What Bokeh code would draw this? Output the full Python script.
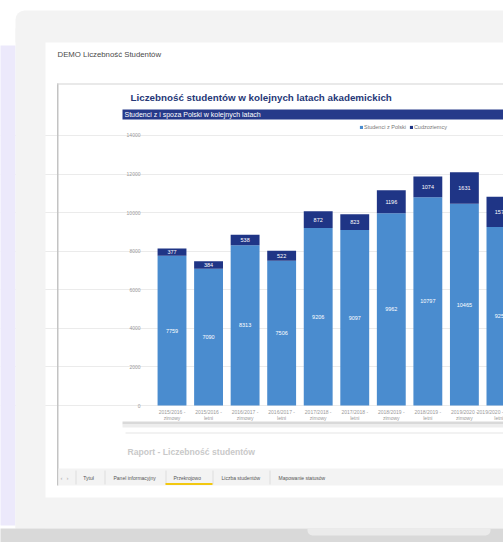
from bokeh.plotting import figure
from bokeh.models import (ColumnDataSource, Range1d, FixedTicker, BoxAnnotation,
                          Label, LabelSet, Legend, LegendItem, LinearAxis)
from bokeh.core.properties import value
from bokeh.embed import file_html
from bokeh.resources import INLINE

# ---------------- data ----------------
years = ["2015/2016 -", "2015/2016 -", "2016/2017 -", "2016/2017 -", "2017/2018 -",
         "2017/2018 -", "2018/2019 -", "2018/2019 -", "2019/2020 -", "2019/2020 -"]
terms = ["zimowy", "letni", "zimowy", "letni", "zimowy",
         "letni", "zimowy", "letni", "zimowy", "letni"]
polish = [7759, 7090, 8313, 7506, 9206, 9097, 9962, 10797, 10465, 9259]
foreign = [377, 384, 538, 522, 872, 823, 1196, 1074, 1631, 1570]
y_ticks = [0, 2000, 4000, 6000, 8000, 10000, 12000, 14000]
series_names = ["Studenci z Polski", "Cudzoziemcy"]

LIGHT = "#4a8ccf"
DARK = "#1f3586"
NAVY = "#263a8a"
FONT = "Liberation Sans"

xs = list(range(len(years)))
src = ColumnDataSource(dict(
    x=xs, polish=polish, foreign=foreign,
    mid_p=[v / 2 for v in polish],
    mid_f=[a + b / 2 for a, b in zip(polish, foreign)],
    t_p=[str(v) for v in polish], t_f=[str(v) for v in foreign],
))

# canvas: 503 x 542 px; the chart's plotting area spans px x 143..503, y 122..405
W, H = 503, 542
CH_L, CH_R, CH_T, CH_B = 143, 503, 122, 405
X0, X1 = -0.78, 9.07          # visible category span of the chart area
Y1 = 14674                    # value at the chart area's top
xpp = (X1 - X0) / (CH_R - CH_L)
ypp = Y1 / (CH_B - CH_T)
x_range = Range1d(X0 - CH_L * xpp, X1 + (W - CH_R) * xpp)
y_range = Range1d(-(H - CH_B) * ypp, Y1 + CH_T * ypp)

p = figure(width=W, height=H, output_backend="svg", toolbar_location=None,
           x_range=x_range, y_range=y_range,
           min_border_left=0, min_border_right=0, min_border_top=0,
           min_border_bottom=0)
p.border_fill_color = "white"
p.background_fill_color = "white"
p.outline_line_color = None


def box(l, r, t, b, color, radius=0):
    p.add_layout(BoxAnnotation(left=l, right=r, top=t, bottom=b,
                               left_units="canvas", right_units="canvas",
                               top_units="canvas", bottom_units="canvas",
                               fill_color=color, fill_alpha=1, line_color=None,
                               border_radius=radius))


def text(x, y, s, size, color, bold=False, align="left"):
    p.add_layout(Label(x=x, y=y, x_units="canvas", y_units="canvas", text=s,
                       text_font=FONT, text_font_size=f"{size}px",
                       text_color=color,
                       text_font_style="bold" if bold else "normal",
                       text_align=align, text_baseline="middle"))


# ---------------- device / report chrome ----------------
box(-5, 15, 45, 525, "#ece9fb", (0, 0, 0, 6))
box(15, 510, 10, 42, "#f3f3f3", (9, 0, 0, 0))
box(15, 45, 28, 528, "#f3f3f3")
box(15, 510, 497, 528, "#f3f3f3")
box(-5, 510, 528, 550, "#d9d9d9")
box(307, 490, 528, 535, "#ebebeb", (0, 0, 5, 5))

box(56.5, 58, 83, 485, "#c3c3c3")
box(56.5, 510, 83, 84, "#d3d3d3")
box(58, 510, 468, 485, "#f3f3f3")
for sx in [75, 104, 165, 212, 269]:
    box(sx, sx + 1, 470, 484, "#dddddd")
box(165, 212, 482.5, 484.5, "#f2c811")

box(122, 510, 421, 424, "#d9d9d9")
box(122, 510, 424, 427, "#ededed")
box(125, 510, 432, 433, "#e6e6e6")

box(122, 510, 109, 119, NAVY)

text(57, 54, "DEMO Liczebność Studentów", 7.8, "#4a4a4a")
text(130, 97, "Liczebność studentów w kolejnych latach akademickich", 9.8,
     "#263877", bold=True)
text(124, 114, "Studenci z i spoza Polski w kolejnych latach", 7, "white")
text(127, 451, "Raport - Liczebność studentów", 8.6, "#c9c9c9", bold=True)

text(60, 477, "‹", 6, "#aaaaaa")
text(66, 477, "›", 6, "#aaaaaa")
text(88, 477, "Tytuł", 5, "#555555", align="center")
text(113, 477, "Panel informacyjny", 5, "#555555")
text(173, 477, "Przekrojowo", 5, "#555555")
text(221, 477, "Liczba studentów", 5, "#555555")
text(278, 477, "Mapowanie statusów", 5, "#555555")

# ---------------- chart ----------------
bars = p.vbar_stack(["polish", "foreign"], x="x", width=0.79,
                    color=[LIGHT, DARK], line_color=None, source=src)

lab_kw = dict(x="x", text_align="center", text_baseline="middle",
              text_font=value(FONT), text_font_size="5.5px", text_color="white",
              source=src)
p.add_layout(LabelSet(y="mid_p", text="t_p", **lab_kw))
p.add_layout(LabelSet(y="mid_f", text="t_f", **lab_kw))

legend = Legend(items=[LegendItem(label=series_names[0], renderers=[bars[0]]),
                       LegendItem(label=series_names[1], renderers=[bars[1]])],
                orientation="horizontal", location=(359, H - 130),
                label_text_font=FONT, label_text_font_size="5.5px",
                label_text_color="#777777", glyph_width=4, glyph_height=4,
                label_standoff=1, spacing=3, padding=0, margin=0,
                label_height=5, border_line_color=None,
                background_fill_alpha=0)
p.add_layout(legend)

p.xgrid.grid_line_color = None
p.ygrid.grid_line_color = "#ebebeb"
p.ygrid.ticker = FixedTicker(ticks=y_ticks)
p.ygrid.bounds = (X0, X1)

# semester labels: year on the first line, term on the second
p.xaxis.ticker = FixedTicker(ticks=xs)
p.xaxis.major_label_overrides = {i: s for i, s in enumerate(years)}
p.xaxis.major_label_standoff = 3
term_axis = LinearAxis(ticker=FixedTicker(ticks=xs),
                       major_label_overrides={i: s for i, s in enumerate(terms)},
                       major_label_standoff=9)
p.add_layout(term_axis, "below")

p.yaxis.ticker = FixedTicker(ticks=y_ticks)
p.yaxis.fixed_location = X0
p.yaxis.bounds = (0, 14000)
p.yaxis.major_label_standoff = 3

for ax in p.xaxis + p.yaxis:
    if ax in p.xaxis:
        ax.fixed_location = 0
        ax.bounds = (X0, X1)
    ax.axis_line_color = None
    ax.major_tick_line_color = None
    ax.minor_tick_line_color = None
    ax.major_tick_out = 0
    ax.major_tick_in = 0
    ax.major_label_text_font = FONT
    ax.major_label_text_font_size = "5px"
    ax.major_label_text_color = "#9a9a9a"

open("out.html", "w").write(file_html(p, INLINE))
